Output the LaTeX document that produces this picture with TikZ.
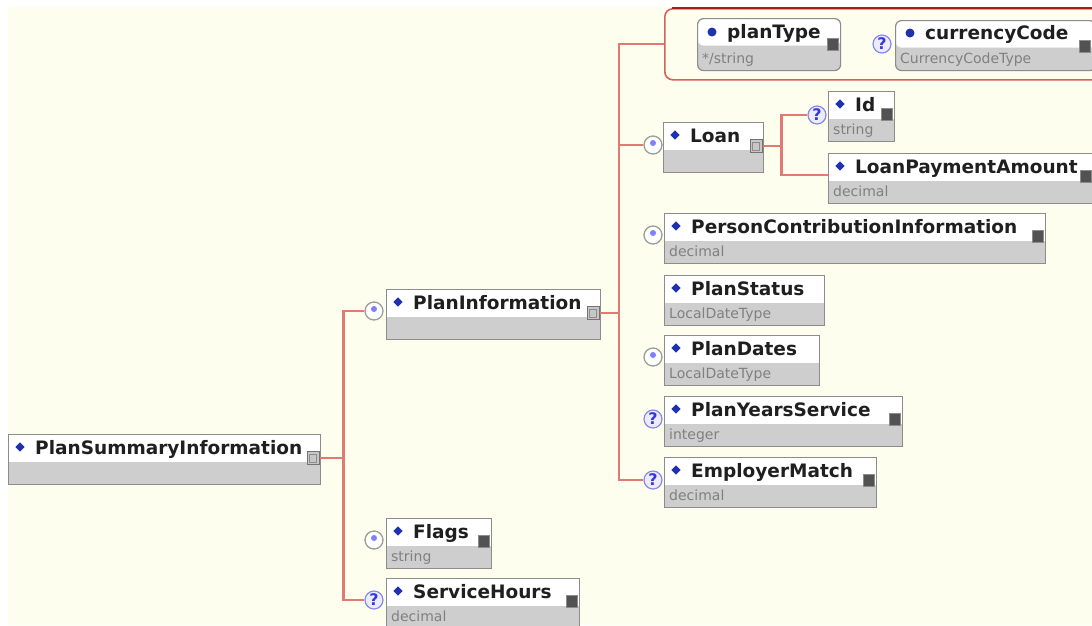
\documentclass[tikz,border=0pt]{standalone}
\usepackage{fontspec}
\setmainfont{DejaVu Sans}
\usetikzlibrary{calc}
\definecolor{bgcream}{RGB}{254,254,238}
\definecolor{connred}{RGB}{226,122,116}
\definecolor{attrred}{RGB}{214,96,92}
\definecolor{attrtop}{RGB}{168,28,28}
\definecolor{boxgray}{RGB}{206,206,206}
\definecolor{boxline}{RGB}{140,140,140}
\definecolor{typegray}{RGB}{128,128,128}
\definecolor{bulletblue}{RGB}{30,50,175}
\definecolor{qblue}{RGB}{55,55,225}
\definecolor{qfill}{RGB}{236,236,252}
\definecolor{starline}{RGB}{150,160,150}
\tikzset{
  x=1pt, y=-1pt,
  elem/.style={draw=boxline, line width=1.2pt, fill=boxgray, minimum height=50pt,
    inner sep=0pt, anchor=north west,
    path picture={\fill[white] (path picture bounding box.north west) rectangle ([yshift=-27pt]path picture bounding box.north east);}},
  dia/.style={rectangle, rotate=45, fill=bulletblue, minimum size=6.5pt, inner sep=0pt},
  dot/.style={circle, fill=bulletblue, minimum size=9pt, inner sep=0pt},
  ttl/.style={anchor=base west, inner sep=0pt, font=\bfseries\fontsize{18.5pt}{18.5pt}\selectfont, text=black!88},
  typ/.style={anchor=base west, inner sep=0pt, font=\fontsize{14pt}{14pt}\selectfont, text=typegray},
  xs/.style={rectangle, fill=black!68, draw=black!45, line width=0.6pt, minimum width=11pt, minimum height=12pt, inner sep=0pt},
  xc/.style={rectangle, fill=black!22, draw=black!55, line width=0.8pt, minimum width=12pt, minimum height=13pt, inner sep=0pt,
    path picture={\draw[black!45, line width=0.8pt] ([shift={(2.5pt,2.5pt)}]path picture bounding box.south west) rectangle ([shift={(-2.5pt,-2.5pt)}]path picture bounding box.north east);}},
  cstar/.style={circle, draw=starline, line width=1.3pt, fill=white, minimum size=18pt, inner sep=0pt,
    path picture={\fill[blue!50] ([yshift=2pt]path picture bounding box.center) circle (3pt);}},
  cq/.style={circle, draw=qblue!60, line width=1.2pt, fill=qfill, minimum size=18pt, inner sep=0pt,
    text=qblue, font=\bfseries\fontsize{16pt}{16pt}\selectfont},
  wire/.style={draw=connred, line width=2.3pt},
  attrbox/.style={draw=attrred, line width=1.6pt, fill=bgcream, rounded corners=8pt,
    anchor=north west, inner sep=0pt},
}
% name, x, y, width, title, type
\newcommand\xelem[6]{%
  \node[elem, minimum width=#4pt] (#1) at (#2,#3) {};
  \node[dia] (#1-d) at ($(#1.north west)+(12,13)$) {};
  \node[ttl] (#1-t) at ($(#1.north west)+(27,20)$) {#5};
  \node[typ] (#1-y) at ($(#1.south west)+(5,-8)$) {#6};
}
\begin{document}
\begin{tikzpicture}
\useasboundingbox (0,0) rectangle (1092,625);
\fill[white] (0,0) rectangle (1092,625);
\fill[bgcream] (8,7) rectangle (1092,625);

% attribute group of PlanInformation
\node[attrbox, minimum width=460pt, minimum height=71pt] (attrs) at (664,8) {};
\draw[attrtop, line width=2.6pt] (672,8) -- (1100,8);

% planType
\node[elem, rounded corners=6pt, minimum width=143pt, minimum height=52pt] (ptype) at (697,18) {};
\node[dot] (ptype-d) at ($(ptype.north west)+(15,14)$) {};
\node[ttl] (ptype-t) at ($(ptype.north west)+(30,20)$) {planType};
\node[typ] (ptype-y) at ($(ptype.south west)+(5,-8)$) {*/string};
\node[xs] (ptype-x) at ($(ptype.north east)+(-8,26)$) {};

% currencyCode
\node[elem, rounded corners=6pt, minimum width=200pt, minimum height=50pt] (ccode) at (895,20) {};
\node[dot] (ccode-d) at ($(ccode.north west)+(15,13)$) {};
\node[ttl] (ccode-t) at ($(ccode.north west)+(30,19)$) {currencyCode};
\node[typ] (ccode-y) at ($(ccode.south west)+(5,-8)$) {CurrencyCodeType};
\node[xs] (ccode-x) at (1085,46) {};
\node[cq] (ccode-c) at (882,44) {?};

% elements
\xelem{psi}{8}{434}{312}{PlanSummaryInformation}{}
\node[xc] (psi-x) at ($(psi.north east)+(-8,24)$) {};

\xelem{pi}{386}{289}{214}{PlanInformation}{}
\node[xc] (pi-x) at ($(pi.north east)+(-8,24)$) {};
\node[cstar] (pi-c) at (374,311) {};

\xelem{fl}{386}{518}{105}{Flags}{string}
\node[xs] (fl-x) at ($(fl.north east)+(-8.5,23.5)$) {};
\node[cstar] (fl-c) at (374,540) {};

\xelem{sh}{386}{578}{193}{ServiceHours}{decimal}
\node[xs] (sh-x) at ($(sh.north east)+(-8.5,23.5)$) {};
\node[cq] (sh-c) at (374,600) {?};

\xelem{loan}{663}{122}{100}{Loan}{}
\node[xc] (loan-x) at ($(loan.north east)+(-8,24)$) {};
\node[cstar] (loan-c) at (653,145) {};

\xelem{id}{828}{91}{66}{Id}{string}
\node[xs] (id-x) at ($(id.north east)+(-8.5,23.5)$) {};
\node[cq] (id-c) at (817,115) {?};

\xelem{lpa}{828}{153}{270}{LoanPaymentAmount}{decimal}
\node[xs] (lpa-x) at (1086,176) {};

\xelem{pci}{664}{213}{381}{PersonContributionInformation}{decimal}
\node[xs] (pci-x) at ($(pci.north east)+(-8.5,23.5)$) {};
\node[cstar] (pci-c) at (653,235) {};

\xelem{pst}{664}{275}{160}{PlanStatus}{LocalDateType}

\xelem{pd}{664}{335}{155}{PlanDates}{LocalDateType}
\node[cstar] (pd-c) at (653,357) {};

\xelem{pys}{664}{396}{238}{PlanYearsService}{integer}
\node[xs] (pys-x) at ($(pys.north east)+(-8.5,23.5)$) {};
\node[cq] (pys-c) at (653,419) {?};

\xelem{em}{664}{457}{212}{EmployerMatch}{decimal}
\node[xs] (em-x) at ($(em.north east)+(-8.5,23.5)$) {};
\node[cq] (em-c) at (653,480) {?};

% connectors
\coordinate (b1) at ([xshift=24pt]psi-x.east);
\draw[wire] (psi-x.east) -- (b1);
\draw[wire] (pi-c.west) -| (b1) |- (sh-c.west);

\coordinate (b2) at ([xshift=19.5pt]pi-x.east);
\draw[wire] (pi-x.east) -- (b2);
\draw[wire] (attrs.west) -| (b2) |- (em-c.west);
\draw[wire] (b2 |- loan-c.west) -- (loan-c.west);

\coordinate (b3) at ([xshift=19pt]loan-x.east);
\coordinate (lpa-in) at ($(lpa.north west)+(0,22)$);
\draw[wire] (loan-x.east) -- (b3);
\draw[wire] (id-c.west) -| (b3) |- (lpa-in);
\end{tikzpicture}
\end{document}
